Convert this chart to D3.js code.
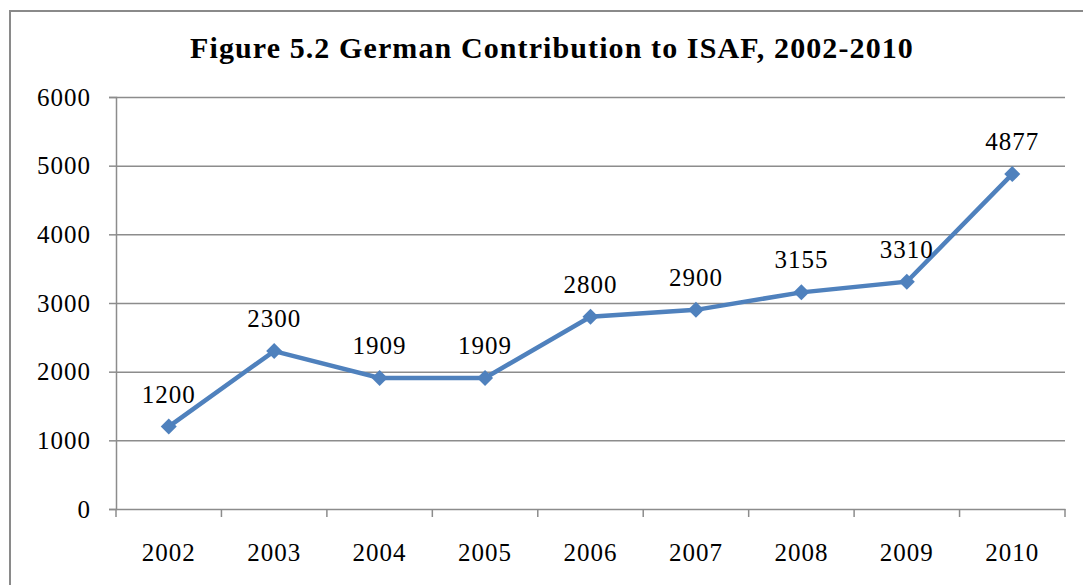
<!DOCTYPE html>
<html>
<head>
<meta charset="utf-8">
<script src="https://cdn.jsdelivr.net/npm/d3@7"></script>
<style>
  body { margin: 0; background: #fff; }
  svg { display: block; }
  text { font-family: "Liberation Serif", "Times New Roman", serif; fill: #000; }
</style>
</head>
<body>
<svg width="1083" height="585"></svg>
<script>
// Chart data:
var years = ['2002', '2003', '2004', '2005', '2006', '2007', '2008', '2009', '2010'];
var troops = [1200, 2300, 1909, 1909, 2800, 2900, 3155, 3310, 4877];
var yTicks = [0, 1000, 2000, 3000, 4000, 5000, 6000];
var title = 'Figure 5.2 German Contribution to ISAF, 2002-2010';

var svg = d3.select('svg');

// Outer frame of the chart:
svg.append('rect')
  .attr('x', 10)
  .attr('y', 11)
  .attr('width', 1090)
  .attr('height', 600)
  .attr('fill', 'none')
  .attr('stroke', '#8a8a8a')
  .attr('stroke-width', 2);

var margin = { top: 97, left: 116, right: 18, bottom: 76 };
var width = 1083 - margin.left - margin.right;
var height = 585 - margin.top - margin.bottom;

var x = d3.scaleBand().domain(years).range([0, width]);
var y = d3.scaleLinear().domain([0, 6000]).range([height, 0]);

var g = svg.append('g')
  .attr('transform', 'translate(' + margin.left + ',' + margin.top + ')');

// Title:
svg.append('text')
  .attr('x', 552)
  .attr('y', 58)
  .attr('text-anchor', 'middle')
  .style('font-size', '30px')
  .style('font-weight', 'bold')
  .style('letter-spacing', '1.1px')
  .text(title);

// Horizontal gridlines:
g.selectAll('.grid')
  .data(yTicks.slice(1))
  .enter()
  .append('line')
  .attr('class', 'grid')
  .attr('x1', 0)
  .attr('x2', width)
  .attr('y1', function (d) { return y(d) + 0.5; })
  .attr('y2', function (d) { return y(d) + 0.5; })
  .attr('stroke', '#8c8c8c')
  .attr('stroke-width', 1.5);

// Y axis:
var yAxis = g.append('g')
  .call(d3.axisLeft(y).tickValues(yTicks).tickFormat(d3.format('d')).tickSize(7).tickPadding(18));

// X axis:
var xAxis = g.append('g')
  .attr('transform', 'translate(0,' + height + ')')
  .call(d3.axisBottom(x).tickSize(0).tickPadding(34));

// Category boundary ticks on the x axis:
g.selectAll('.xtick')
  .data(d3.range(years.length + 1))
  .enter()
  .append('line')
  .attr('class', 'xtick')
  .attr('x1', function (i) { return i * x.step(); })
  .attr('x2', function (i) { return i * x.step(); })
  .attr('y1', height)
  .attr('y2', height + 8)
  .attr('stroke', '#8c8c8c')
  .attr('stroke-width', 1.5);

[xAxis, yAxis].forEach(function (a) {
  a.select('.domain').attr('stroke', '#8c8c8c').attr('stroke-width', 1.5);
  a.selectAll('.tick line').attr('stroke', '#8c8c8c').attr('stroke-width', 1.5);
  a.selectAll('text')
    .style('font-family', '"Liberation Serif", "Times New Roman", serif')
    .style('font-size', '25px')
    .style('letter-spacing', '1px')
    .attr('fill', '#000');
});

var points = years.map(function (yr, i) { return { year: yr, value: troops[i] }; });

function px(d) { return x(d.year) + x.bandwidth() / 2; }
function py(d) { return y(d.value); }

// The line:
g.append('path')
  .datum(points)
  .attr('fill', 'none')
  .attr('stroke', '#4f81bd')
  .attr('stroke-width', 4.5)
  .attr('d', d3.line().x(px).y(py));

// Diamond markers:
g.selectAll('.marker')
  .data(points)
  .enter()
  .append('path')
  .attr('class', 'marker')
  .attr('transform', function (d) { return 'translate(' + px(d) + ',' + py(d) + ')'; })
  .attr('d', 'M0,-8L8,0L0,8L-8,0Z')
  .attr('fill', '#4f81bd');

// Value labels:
g.selectAll('.label')
  .data(points)
  .enter()
  .append('text')
  .attr('class', 'label')
  .attr('x', px)
  .attr('y', function (d) { return py(d) - 24; })
  .attr('text-anchor', 'middle')
  .style('font-size', '25px')
  .style('letter-spacing', '1px')
  .text(function (d) { return d.value; });
</script>
</body>
</html>
